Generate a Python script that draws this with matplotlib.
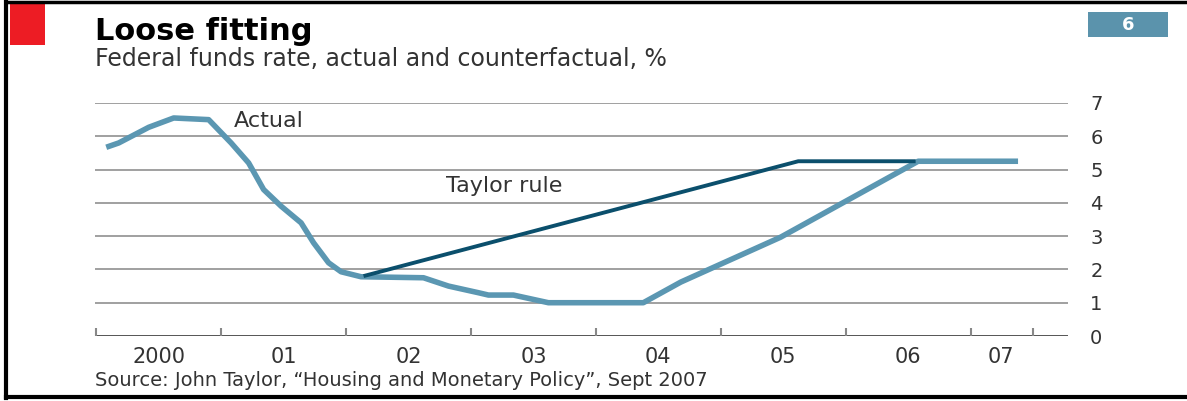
import matplotlib.pyplot as plt
from matplotlib.patches import Rectangle
from matplotlib.lines import Line2D

# data (decimal years, %)
actual_dates = [2000.08, 2000.18, 2000.42, 2000.62, 2000.90, 2001.08, 2001.22, 2001.34,
                2001.48, 2001.64, 2001.74, 2001.86, 2001.96, 2002.12, 2002.62, 2002.82,
                2003.06, 2003.14, 2003.34, 2003.62, 2004.34, 2004.38, 2004.68, 2005.48,
                2006.58, 2007.38]
actual_rate = [5.67, 5.8, 6.27, 6.55, 6.5, 5.8, 5.2, 4.4,
               3.9, 3.4, 2.8, 2.2, 1.93, 1.78, 1.75, 1.5,
               1.3, 1.23, 1.23, 1.0, 1.0, 1.0, 1.62, 2.97,
               5.25, 5.25]
taylor_dates = [2002.14, 2005.62, 2006.56]
taylor_rate = [1.8, 5.25, 5.25]

year_ticks = [2000, 2001, 2002, 2003, 2004, 2005, 2006, 2007, 2007.5]
year_label_pos = [2000.5, 2001.5, 2002.5, 2003.5, 2004.5, 2005.5, 2006.5, 2007.24]
year_labels = ['2000', '01', '02', '03', '04', '05', '06', '07']
y_ticks = [0, 1, 2, 3, 4, 5, 6, 7]

light_blue = '#5b97b2'
dark_blue = '#0b4f6c'
text_col = '#333333'

W, H = 1187, 401
fig = plt.figure(figsize=(W / 100, H / 100), dpi=100)
fig.patch.set_facecolor('white')

ax = fig.add_axes([95 / W, 1 - 336 / H, (1068 - 95) / W, (336 - 103) / H])

# grid lines
for v in y_ticks[1:]:
    ax.axhline(v, color='#a0a0a0', lw=1.4, zorder=1)
ax.axhline(0, color='#555555', lw=1.4, zorder=1)

ax.plot(actual_dates, actual_rate, color=light_blue, lw=4, solid_capstyle='butt',
        solid_joinstyle='round', zorder=3)
ax.plot(taylor_dates, taylor_rate, color=dark_blue, lw=2.8, solid_capstyle='butt', zorder=4)

ax.text(2001.1, 6.45, 'Actual', fontsize=16, color=text_col, va='center', ha='left')
ax.text(2002.8, 4.5, 'Taylor rule', fontsize=16, color=text_col, va='center', ha='left')

ax.set_xlim(1999.99, 2007.78)
ax.set_ylim(0, 7)
for s in ax.spines.values():
    s.set_visible(False)

ax.set_xticks(year_ticks)
ax.set_xticklabels([''] * len(year_ticks))
ax.tick_params(axis='x', which='major', direction='in', length=6, width=1.5, color='#888888')
ax.set_xticks(year_label_pos, minor=True)
ax.set_xticklabels(year_labels, minor=True)
ax.tick_params(axis='x', which='minor', length=0, pad=8, labelsize=15, labelcolor=text_col)

ax.yaxis.tick_right()
ax.set_yticks(y_ticks)
ax.set_yticklabels([str(v) for v in y_ticks])
ax.tick_params(axis='y', length=0, pad=16, labelsize=14, labelcolor=text_col)

# header and footer
fig.text(95 / W, 1 - 32 / H, 'Loose fitting', fontsize=22, fontweight='bold',
         color='black', va='center', ha='left')
fig.text(95 / W, 1 - 59 / H, 'Federal funds rate, actual and counterfactual, %',
         fontsize=17, color=text_col, va='center', ha='left')
fig.text(95 / W, 1 - 381 / H,
         'Source: John Taylor, \u201cHousing and Monetary Policy\u201d, Sept 2007',
         fontsize=14, color=text_col, va='center', ha='left')

# red corner block and chart number box
fig.add_artist(Rectangle((10 / W, 1 - 45 / H), 35 / W, 42 / H, transform=fig.transFigure,
                         facecolor='#ed1c24', edgecolor='none'))
fig.add_artist(Rectangle((1088 / W, 1 - 37 / H), 80 / W, 25 / H, transform=fig.transFigure,
                         facecolor='#5b93ac', edgecolor='none'))
fig.text(1128 / W, 1 - 24.5 / H, '6', fontsize=13, fontweight='bold', color='white',
         va='center', ha='center')

# outer frame
fig.add_artist(Line2D([6 / W, 6 / W], [1 - 398 / H, 1 - 2 / H], transform=fig.transFigure,
                      color='black', lw=3))
fig.add_artist(Line2D([6 / W, 1], [1 - 2 / H, 1 - 2 / H], transform=fig.transFigure,
                      color='black', lw=2.5))
fig.add_artist(Line2D([6 / W, 1], [1 - 397 / H, 1 - 397 / H], transform=fig.transFigure,
                      color='black', lw=3))

fig.savefig('out.png', dpi=100, facecolor='white')
